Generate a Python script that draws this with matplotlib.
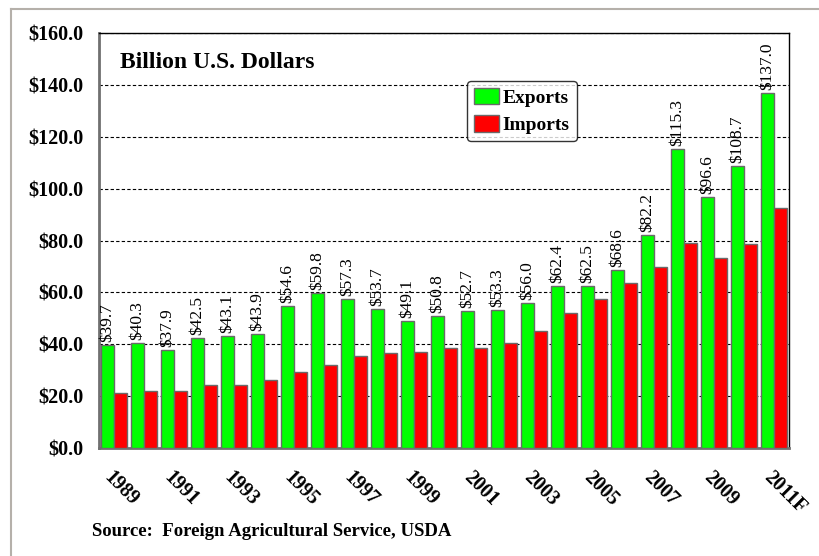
import matplotlib
matplotlib.use("Agg")
import matplotlib.pyplot as plt
from matplotlib.lines import Line2D
import numpy as np

years = ["1989", "1990", "1991", "1992", "1993", "1994", "1995", "1996", "1997", "1998",
         "1999", "2000", "2001", "2002", "2003", "2004", "2005", "2006", "2007", "2008",
         "2009", "2010", "2011F"]
exports = [39.7, 40.3, 37.9, 42.5, 43.1, 43.9, 54.6, 59.8, 57.3, 53.7, 49.1, 50.8,
           52.7, 53.3, 56.0, 62.4, 62.5, 68.6, 82.2, 115.3, 96.6, 108.7, 137.0]
imports = [21.2, 22.1, 22.1, 24.1, 24.1, 26.2, 29.3, 32.1, 35.3, 36.5, 37.0, 38.5,
           38.5, 40.6, 45.3, 52.2, 57.3, 63.8, 69.9, 79.0, 73.2, 78.6, 92.7]
yticks = [0, 20, 40, 60, 80, 100, 120, 140, 160]

serif = ["Liberation Serif", "DejaVu Serif"]
plt.rcParams["font.family"] = serif

fig = plt.figure(figsize=(8.19, 5.56), dpi=100)
ax = fig.add_axes([99/819, (556-448)/556, 690/819, 415/556])

x = np.arange(len(years))
w = 0.42
ax.bar(x - 0.21, exports, w, color="#00FF00", edgecolor="#6a6a6a", linewidth=1.0,
       label="Exports", zorder=3)
ax.bar(x + 0.21, imports, w, color="#FF0000", edgecolor="#6a6a6a", linewidth=1.0,
       label="Imports", zorder=3)

for xi, v in zip(x, exports):
    ax.text(xi - 0.21, v + 1.2, f"${v:.1f}", rotation=90, ha="center", va="bottom",
            fontsize=12.5, zorder=4)

ax.set_xlim(-0.5, len(years) - 0.5)
ax.set_ylim(0, 160)
ax.set_yticks(yticks)
ax.set_yticklabels([f"${t:.1f}" for t in yticks], fontsize=14.5, fontweight="bold")
ax.tick_params(axis="y", length=0, pad=11)
ax.set_xticks(x[::2])
ax.set_xticklabels(years[::2], rotation=-45, ha="left", va="top", rotation_mode="anchor",
                   fontsize=14.5, fontweight="bold")
ax.tick_params(axis="x", length=0, pad=14)

ax.grid(axis="y", linestyle=(0, (3, 2)), color="black", linewidth=0.8, zorder=0)
for s in ["top", "right"]:
    ax.spines[s].set_color("black")
    ax.spines[s].set_linewidth(1.0)
for s in ["left", "bottom"]:
    ax.spines[s].set_color("#707070")
    ax.spines[s].set_linewidth(2.0)

ax.text(0.03, 0.93, "Billion U.S. Dollars", transform=ax.transAxes, fontsize=17,
        fontweight="bold", ha="left", va="center")

leg = ax.legend(loc="upper left", bbox_to_anchor=(0.533, 0.884), borderaxespad=0,
                prop={"weight": "bold", "size": 14}, frameon=True, fancybox=True,
                edgecolor="black", handlelength=1.3, handleheight=0.9,
                handletextpad=0.2, borderpad=0.35, labelspacing=0.45)
leg.get_frame().set_linewidth(1.0)
leg.set_zorder(5)

fig.text(92/819, 1 - 532/556, "Source:  Foreign Agricultural Service, USDA",
         fontsize=13.5, fontweight="bold", ha="left", va="center")

fig.add_artist(Line2D([11/819, 1], [1 - 9/556, 1 - 9/556], color="#b5b0aa", linewidth=1.5))
fig.add_artist(Line2D([11/819, 11/819], [0, 1 - 9/556], color="#b5b0aa", linewidth=1.5))

fig.savefig("out.png", dpi=100)
